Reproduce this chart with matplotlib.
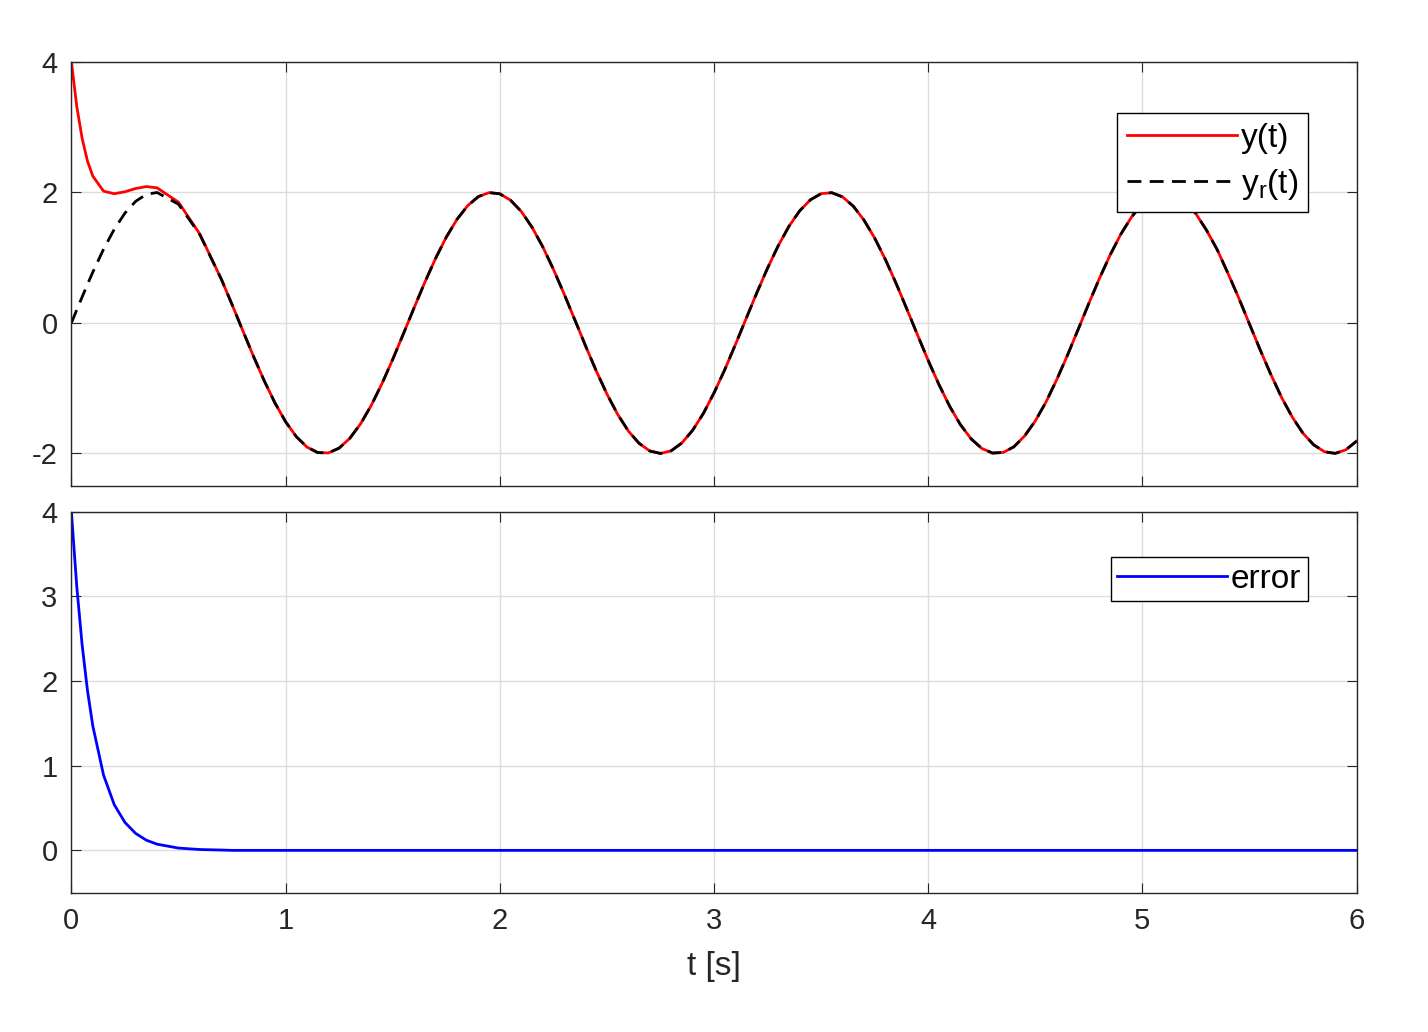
import numpy as np
import matplotlib
matplotlib.use("Agg")
import matplotlib.pyplot as plt

plt.rcParams['font.family'] = ['Liberation Sans', 'DejaVu Sans']
plt.rcParams['axes.unicode_minus'] = False

# reference signal sampled every 0.1 s
t_ref = np.round(np.arange(0, 6.0001, 0.1), 2)
y_ref = [0, 0.779, 1.435, 1.864, 1.999, 1.819, 1.351, 0.670, -0.117, -0.885,
         -1.514, -1.903, -1.992, -1.767, -1.263, -0.559, 0.233, 0.988, 1.587, 1.936,
         1.979, 1.709, 1.170, 0.446, -0.349, -1.088, -1.656, -1.962, -1.960, -1.646,
         -1.073, -0.331, 0.463, 1.184, 1.718, 1.981, 1.932, 1.577, 0.973, 0.216,
         -0.576, -1.276, -1.775, -1.994, -1.898, -1.502, -0.869, -0.100, 0.687, 1.364,
         1.826, 1.999, 1.857, 1.417, 0.756, -0.018, -0.792, -1.445, -1.869, -1.999,
         -1.811]
# reference signal at the midpoints (0.05, 0.15, ...)
t_mid = np.round(np.arange(0.05, 6.0, 0.1), 2)
y_mid = [0.397, 1.129, 1.683, 1.971, 1.948, 1.617, 1.031, 0.282, -0.511, -1.224,
         -1.743, -1.987, -1.918, -1.546, -0.929, -0.166, 0.623, 1.314, 1.797, 1.997,
         1.881, 1.469, 0.824, 0.050, -0.733, -1.400, -1.844, -2.000, -1.839, -1.389,
         -0.718, 0.067, 0.840, 1.481, 1.887, 1.996, 1.790, 1.301, 0.607, -0.183,
         -0.943, -1.557, -1.923, -1.985, -1.732, -1.211, -0.496, 0.300, 1.046, 1.627,
         1.950, 1.969, 1.673, 1.118, 0.381, -0.414, -1.143, -1.692, -1.974, -1.944]

# early samples
t_early = [0, 0.025, 0.05, 0.075, 0.1, 0.15, 0.2, 0.25, 0.3, 0.35, 0.4, 0.5, 0.6, 0.7]
yr_early = [0, 0.200, 0.397, 0.591, 0.779, 1.129, 1.435, 1.683, 1.864, 1.971, 1.999, 1.819, 1.351, 0.670]
y_early = [4, 3.32, 2.83, 2.48, 2.25, 2.02, 1.98, 2.01, 2.06, 2.09, 2.07, 1.85, 1.36, 0.67]
err_early = [4, 3.12, 2.43, 1.89, 1.47, 0.89, 0.54, 0.33, 0.20, 0.12, 0.073, 0.027, 0.01, 0.004]

t_r = np.concatenate([t_ref, t_mid])
v_r = np.concatenate([y_ref, y_mid])
o = np.argsort(t_r)
t_r, v_r = t_r[o], v_r[o]
late = t_r > 0.72
t_all = np.concatenate([t_early, t_r[late]])
yr_all = np.concatenate([yr_early, v_r[late]])
y_all = np.concatenate([y_early, v_r[late]])
e_all = np.concatenate([err_early, np.zeros(late.sum())])

fig = plt.figure(figsize=(14.28, 10.32), dpi=100)
ax1 = fig.add_axes([0.050, 0.529, 0.900, 0.411])
ax2 = fig.add_axes([0.050, 0.135, 0.900, 0.369])

ax1.plot(t_all, y_all, color='red', lw=2, label='y(t)')
ax1.plot(t_all, yr_all, color='black', lw=2, ls=(0, (5, 3)), label=r'y$_\mathregular{r}$(t)')
ax1.set_ylim(-2.5, 4)
ax1.set_yticks([-2, 0, 2, 4])
ax1.set_xticklabels([])
ax1.legend(loc='upper right', bbox_to_anchor=(0.975, 0.92), fontsize=24, fancybox=False,
           edgecolor='black', framealpha=1, handlelength=3.3, borderpad=0.3,
           handletextpad=0.1, labelspacing=0.4)

ax2.plot(t_all, e_all, color='blue', lw=2, label='error')
ax2.set_ylim(-0.5, 4)
ax2.set_yticks([0, 1, 2, 3, 4])
ax2.set_xlabel('t [s]', fontsize=24, labelpad=12, color='#262626')
ax2.legend(loc='upper right', bbox_to_anchor=(0.975, 0.925), fontsize=24, fancybox=False,
           edgecolor='black', framealpha=1, handlelength=3.3, borderpad=0.2,
           handletextpad=0.1)

for ax in (ax1, ax2):
    ax.set_xlim(0, 6)
    ax.set_xticks(range(7))
    ax.grid(True, color='#dddddd', lw=1)
    ax.tick_params(direction='in', top=True, right=True, labelsize=21, length=7,
                   colors='#262626', pad=10)
    for s in ax.spines.values():
        s.set_color('#262626')
        s.set_linewidth(1)

fig.savefig('out.png', dpi=100, facecolor='white')
